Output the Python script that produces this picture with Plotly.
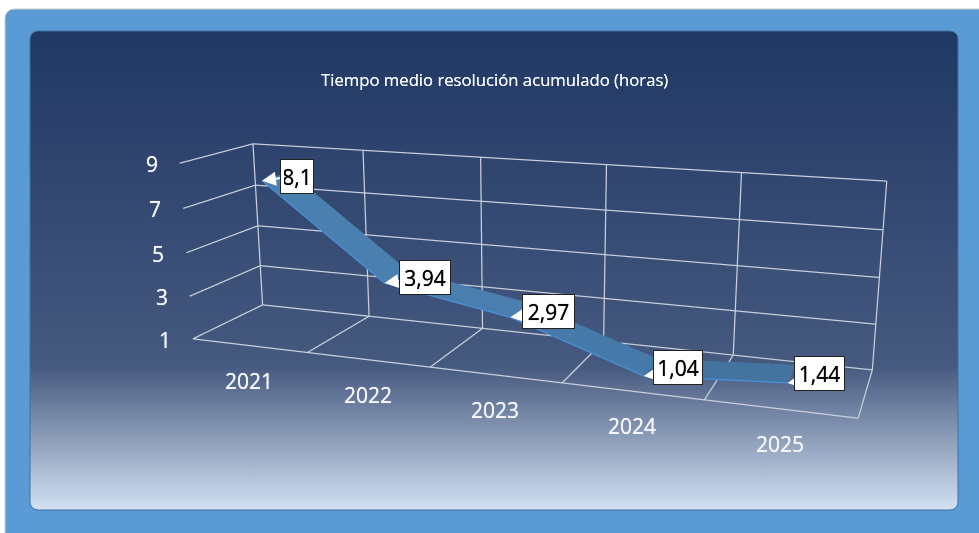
import base64
import plotly.graph_objects as go

years = ["2021", "2022", "2023", "2024", "2025"]
values = [8.1, 3.94, 2.97, 1.04, 1.44]
labels = ["8,1", "3,94", "2,97", "1,04", "1,44"]
z_ticks = [1, 3, 5, 7, 9]
x_bounds = [0.5, 1.5, 2.5, 3.5, 4.5, 5.5]
x_pos = [1, 2, 3, 4, 5]

# pixel offsets of each value box from its point
box_dx = [34.8, 40.3, 38.2, 34.1, 32.1]
box_dy = [-4.0, -5.5, -6.0, -8.0, -9.0]
box_w = [26, 44, 45, 42, 43]

FIG_W, FIG_H, TOP = 1064, 1036, 225   # the scene fills a taller page, shifted to fit the camera's field of view
def paper_x(px): return px / FIG_W
def paper_y(py): return 1 - (py + TOP) / FIG_H

svg = '''<svg xmlns="http://www.w3.org/2000/svg" width="979" height="533" viewBox="0 0 979 533" preserveAspectRatio="none"><defs><linearGradient id="g" x1="0" y1="0" x2="0" y2="1">
<stop offset="0" stop-color="#203864"/><stop offset="0.7" stop-color="#46597f"/><stop offset="1" stop-color="#d2e1f3"/></linearGradient></defs>
<rect width="979" height="533" fill="#ffffff"/><rect x="5" y="9" width="1000" height="560" rx="9" fill="#5b9bd5" stroke="#c9ccd0"/>
<rect x="30" y="31" width="928" height="479" rx="8" fill="url(#g)" stroke="#41719c"/></svg>'''
src = "data:image/svg+xml;base64," + base64.b64encode(svg.encode()).decode()

fig = go.Figure()
def seg(xs, ys, zs):
    fig.add_trace(go.Scatter3d(x=xs, y=ys, z=zs, mode="lines", line=dict(color="#c9cfda", width=2.5), hoverinfo="skip", showlegend=False))
for z in z_ticks:
    seg([0.5, 0.5, 5.5], [0, 1, 1], [z, z, z])
for x in x_bounds:
    seg([x, x, x], [0, 1, 1], [1, 1, 9])
seg([0.5, 5.5], [0, 0], [1, 1])
seg([5.5, 5.5], [0, 1], [1, 1])

D0, D1 = 0.31, 0.71
mx = x_pos + x_pos
my = [D0] * 5 + [D1] * 5
mz = values + values
i, j, k = [], [], []
for n in range(4):
    i += [n, n]; j += [n + 1, n + 6]; k += [n + 6, n + 5]
fig.add_trace(go.Mesh3d(x=mx, y=my, z=mz, i=i, j=j, k=k,
    facecolor=["#4a80b0"] * 2 + ["#4a7eae"] * 2 + ["#467aaa"] * 2 + ["#42749f"] * 2, flatshading=True,
    lighting=dict(ambient=1, diffuse=0, specular=0, roughness=1, fresnel=0), hoverinfo="skip"))
fig.add_trace(go.Scatter3d(x=x_pos, y=[D0] * 5, z=values, mode="lines", line=dict(color="#4a90d8", width=2.5), hoverinfo="skip", showlegend=False))

ann = []
for xx, v in zip(x_pos, values):
    ann.append(dict(x=xx, y=D0, z=v, text=" ", showarrow=True, ax=22, ay=-3, arrowhead=2, arrowsize=1.4, arrowwidth=2,
                    arrowcolor="white", standoff=0))
for xx, v, l, dx, dy, w in zip(x_pos, values, labels, box_dx, box_dy, box_w):
    ann.append(dict(x=xx, y=D0, z=v, text=l, showarrow=False, xshift=dx, yshift=-dy, width=w, height=27,
                    bgcolor="white", bordercolor="#222222", borderwidth=1, borderpad=3,
                    font=dict(family="Open Sans", size=21, color="black", shadow="0 0 0.7px #000000")))
for xx, y in zip(x_pos, years):
    ann.append(dict(x=xx, y=0, z=1, text=y, showarrow=False, yshift=-35, xshift=0,
                    font=dict(family="Open Sans", size=21, color="#f4f6fa", shadow="0 0 0.7px #f4f6fa")))
for z in z_ticks:
    ann.append(dict(x=0.5, y=0, z=z, text=str(z), showarrow=False, xanchor="right", xshift=-20, yshift=-1,
                    font=dict(family="Open Sans", size=21, color="#f4f6fa", shadow="0 0 0.7px #f4f6fa")))

# Ranges are padded a little so lines on the box edges are not clipped; aspect ratios scale with them.
XR, YR, ZR = [0.4, 5.6], [-0.1, 1.1], [0.5, 9.5]
noax = dict(visible=False, showgrid=False, zeroline=False, showspikes=False)
fig.update_layout(width=FIG_W, height=FIG_H, margin=dict(l=0, r=0, t=0, b=0), paper_bgcolor="rgba(0,0,0,0)", showlegend=False,
    images=[dict(source=src, xref="paper", yref="paper", x=0, y=paper_y(0), sizex=979 / FIG_W, sizey=533 / FIG_H,
                 xanchor="left", yanchor="top", sizing="stretch", layer="below")],
    annotations=[dict(xref="paper", yref="paper", x=paper_x(494), y=paper_y(79.5), xanchor="center", yanchor="middle", showarrow=False,
                      text="Tiempo medio resolución acumulado (horas)",
                      font=dict(family="Open Sans", size=16.7, color="#f4f6fa", shadow="0 0 0.6px #f4f6fa"))],
    scene=dict(domain=dict(x=[0, 1], y=[0, 1]), bgcolor="rgba(0,0,0,0)", aspectmode="manual",
        aspectratio=dict(x=2 * (XR[1] - XR[0]) / 5, y=0.4036 * (YR[1] - YR[0]), z=0.5465 * (ZR[1] - ZR[0]) / 8),
        xaxis=dict(range=XR, **noax), yaxis=dict(range=YR, **noax), zaxis=dict(range=ZR, **noax),
        camera=dict(eye=dict(x=1.2256, y=-3.3149, z=0.8920), center=dict(x=0.0056, y=0.0931, z=-0.1095),
                    up=dict(x=-0.0010, y=0, z=1), projection=dict(type="perspective")),
        annotations=ann))
fig.write_html("out.html", config=dict(displayModeBar=False),
    post_script="document.documentElement.style.overflow='hidden';document.body.style.margin='0';document.body.style.overflow='hidden';"
                "var g=document.getElementById('{plot_id}');g.style.position='absolute';g.style.left='0';g.style.top='-%dpx';" % TOP)
